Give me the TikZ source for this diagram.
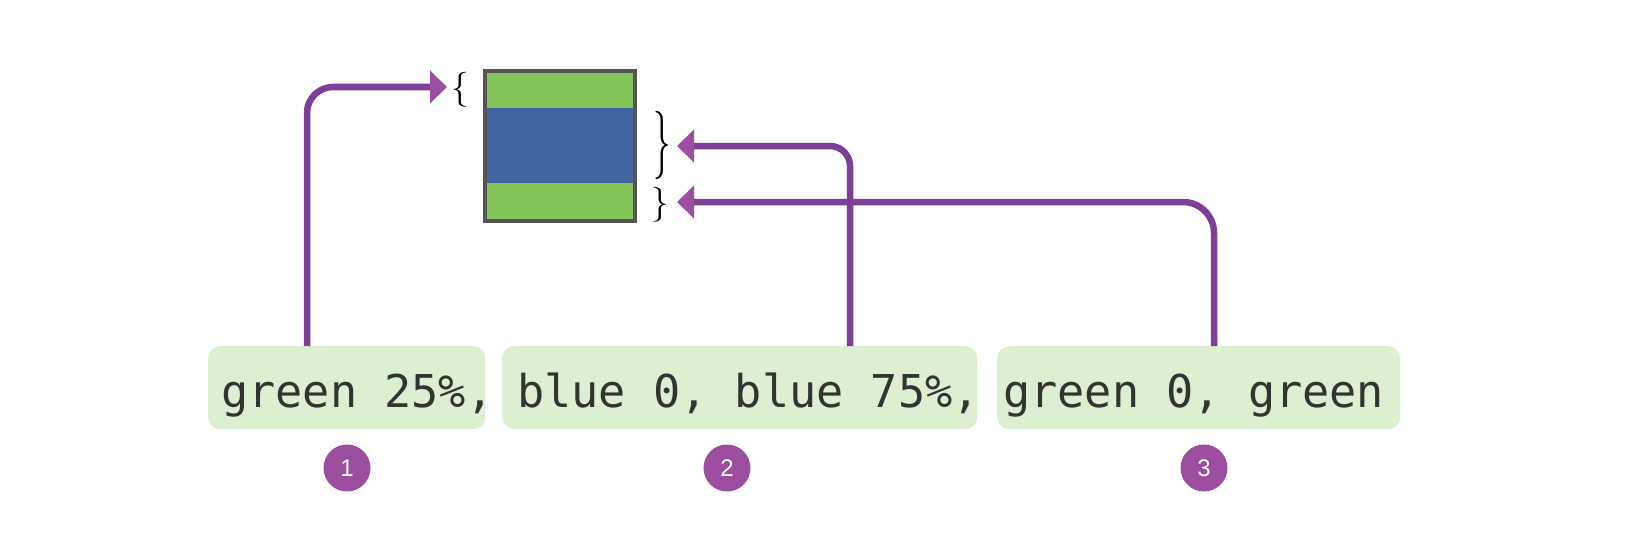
\documentclass[tikz,border=0pt]{standalone}
\usepackage{fontspec}
\usetikzlibrary{arrows.meta}
\newfontfamily\codefont{DejaVu Sans Mono}
\newfontfamily\numfont{Liberation Sans}
\definecolor{linepurple}{HTML}{7E3F98}
\definecolor{headpurple}{HTML}{9B4FA0}
\definecolor{dotpurple}{HTML}{9C4E9E}
\definecolor{boxgreen}{HTML}{DCEFD1}
\definecolor{sqgreen}{HTML}{84C55A}
\definecolor{sqblue}{HTML}{41649F}
\definecolor{sqborder}{HTML}{555555}
\definecolor{codegray}{HTML}{333333}
\tikzset{
  codebox/.style={fill=boxgreen, draw=none, rounded corners=12pt, inner sep=0pt, anchor=north west},
  codetext/.style={font=\codefont\fontsize{45.2}{52}\selectfont, text=codegray, inner sep=0pt, anchor=base west},
  conn/.style={draw=linepurple, line width=6.5pt, -{Triangle[length=17pt,width=32pt,color=headpurple]}},
  numdot/.style={circle, fill=dotpurple, minimum size=47pt, inner sep=0pt, text=white, font=\numfont\fontsize{24}{24}\selectfont},
  bracetext/.style={font=\fontsize{35}{35}\selectfont, inner sep=0pt}
}
\begin{document}
\begin{tikzpicture}[x=1pt,y=-1pt]
\useasboundingbox (0,0) rectangle (1636,551);
% square
\fill[sqgreen] (485,71) rectangle (635,108);
\fill[sqblue] (485,108) rectangle (635,183);
\fill[sqgreen] (485,183) rectangle (635,221);
\node (sq) [draw=sqborder, line width=4pt, minimum width=150pt, minimum height=150pt, inner sep=0pt] at (560,146) {};
% braces
\node (b1) [bracetext] at (460,90) {\{};
\node (b2) [bracetext] at (662,145) {\scalebox{1}[1.95]{\}}};
\node (b3) [bracetext] at (660,205) {\}};
% code boxes
\node (box1) [codebox, minimum width=277pt, minimum height=83pt] at (208,346) {};
\node (box2) [codebox, minimum width=475pt, minimum height=83pt] at (502,346) {};
\node (box3) [codebox, minimum width=403pt, minimum height=83pt] at (997,346) {};
\node (t1) [codetext] at (221,407) {green 25\%,};
\node (t2) [codetext] at (517,407) {blue 0, blue 75\%,};
\node (t3) [codetext] at (1003,407) {green 0, green};
% connector end points
\coordinate (s1) at (307,346);
\coordinate (s2) at (850,346);
\coordinate (s3) at (1214,346);
\coordinate (e1) at (447,87);
\coordinate (e2) at (677,146);
\coordinate (e3) at (677,202);
\draw[conn, rounded corners=26pt] (s1) |- (e1);
\draw[conn, rounded corners=20pt] (s2) |- (e2);
\draw[conn, rounded corners=31pt] (s3) |- (e3);
% numbers
\node (n1) [numdot] at (347,468) {1};
\node (n2) [numdot] at (727,468) {2};
\node (n3) [numdot] at (1204,468) {3};
\end{tikzpicture}
\end{document}
